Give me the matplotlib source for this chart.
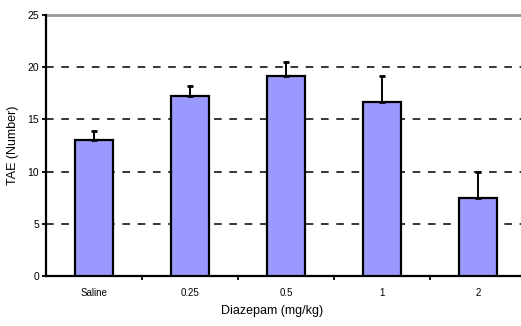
import matplotlib.pyplot as plt

plt.rcParams["font.family"] = ["Liberation Sans", "DejaVu Sans"]

# Data
doses = ["Saline", "0.25", "0.5", "1", "2"]
tae_mean = [13.0, 17.2, 19.2, 16.7, 7.5]
tae_err = [0.9, 1.0, 1.3, 2.5, 2.5]

fig = plt.figure(figsize=(5.21, 3.26), dpi=100)
ax = fig.add_axes([46 / 521, 50 / 326, 480 / 521, 261 / 326])

x = range(len(doses))
ax.bar(x, tae_mean, width=0.39, color="#9999FF", edgecolor="black",
       linewidth=1.6, zorder=3)
ax.errorbar(x, tae_mean, yerr=[[0] * len(doses), tae_err], fmt="none",
            ecolor="black", elinewidth=1.4, capsize=2, capthick=2, zorder=4)

ax.set_xlim(-0.5, 4.5)
ax.set_ylim(0, 25)

# dashed gridlines, solid grey line at the top
for yv in [5, 10, 15, 20]:
    ax.axhline(yv, color="black", linestyle=(0, (5, 5)), linewidth=1.1, zorder=1)
ax.axhline(25, color="#999999", linewidth=2, zorder=1, clip_on=False)

for s in ["top", "right"]:
    ax.spines[s].set_visible(False)
ax.spines["left"].set_linewidth(1.6)
ax.spines["bottom"].set_linewidth(1.6)

ax.set_yticks([0, 5, 10, 15, 20, 25])
ax.tick_params(axis="y", labelsize=7.5, length=3, width=1.3, pad=2)

# category labels centred, ticks between categories
ax.set_xticks([i + 0.5 for i in range(len(doses) - 1)])
ax.set_xticklabels([])
ax.tick_params(axis="x", length=3, width=1.3)
for i, lab in enumerate(doses):
    ax.text(i, -1.6, lab, ha="center", va="center", fontsize=7)

ax.set_ylabel("TAE (Number)", fontsize=9, labelpad=6)
ax.text(0.47, -0.135, "Diazepam (mg/kg)", transform=ax.transAxes,
        ha="center", va="center", fontsize=9)

fig.savefig("out.png", dpi=100)
